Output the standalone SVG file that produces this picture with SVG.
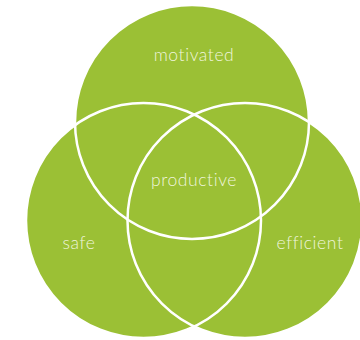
<svg xmlns="http://www.w3.org/2000/svg" width="360" height="340" viewBox="0 0 360 340">
<style>
.fill{fill:#9bc035;stroke:none}
.ring{fill:none;stroke:#ffffff;stroke-width:2.5}
.lbl{font-family:Lato,"Open Sans","Liberation Sans",sans-serif;font-weight:300;font-size:17.5px;fill:#eff5dc;text-anchor:middle;letter-spacing:0.6px}
</style>
<rect width="360" height="340" fill="#ffffff"/>
<g id="fills">
<circle class="fill" cx="192" cy="122" r="117"/>
<circle class="fill" cx="143.5" cy="220.5" r="117.5"/>
<circle class="fill" cx="245" cy="220.5" r="117.5"/>
</g>
<g id="connectors">
<circle class="ring" cx="192" cy="122" r="117"/>
<circle class="ring" cx="143.5" cy="220.5" r="117.5"/>
<circle class="ring" cx="245" cy="220.5" r="117.5"/>
</g>
<g id="motivated"><text class="lbl" x="194" y="61">motivated</text></g>
<g id="productive"><text class="lbl" x="194" y="186">productive</text></g>
<g id="safe"><text class="lbl" x="79" y="249">safe</text></g>
<g id="efficient"><text class="lbl" x="310" y="249">efficient</text></g>
</svg>
